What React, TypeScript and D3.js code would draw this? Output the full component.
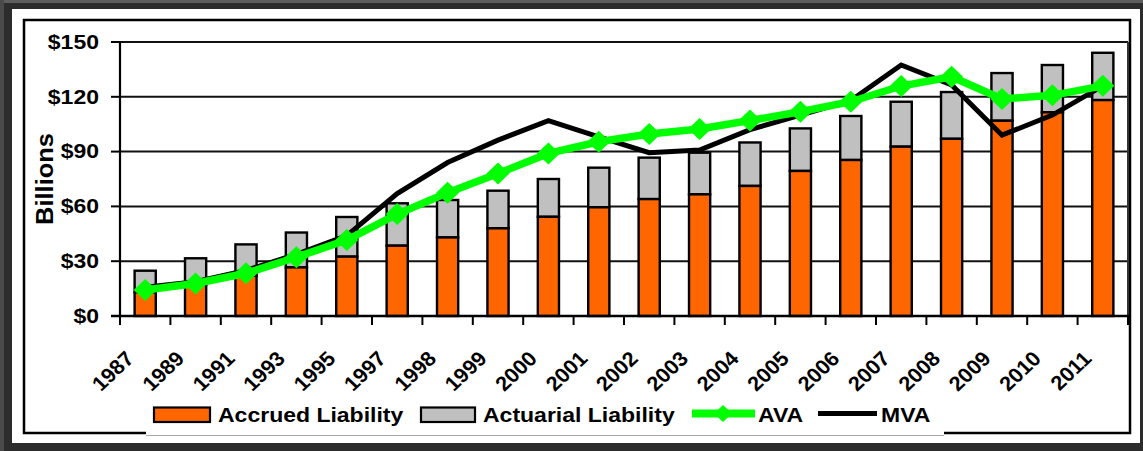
import * as d3 from "d3";

const years = ["1987", "1989", "1991", "1993", "1995", "1997", "1998", "1999", "2000", "2001",
  "2002", "2003", "2004", "2005", "2006", "2007", "2008", "2009", "2010", "2011"];

// top of orange bar
const accrued = [13, 17, 22, 26.6, 32.5, 38.5, 43, 48, 54.3, 59.5,
  64, 66.6, 71.2, 79.4, 85.4, 92.7, 97, 106.9, 111.5, 118.2];
// top of gray bar (total actuarial liability)
const actuarialTotal = [24.8, 31.6, 39.2, 45.7, 54.2, 61.7, 63.5, 68.6, 75, 81.2,
  86.7, 89.4, 95, 102.7, 109.5, 117.3, 122.6, 133, 137.4, 144.1];

const ava = [14.2, 17.8, 23.4, 32.2, 41.6, 55.8, 67.5, 78, 89, 95.4,
  99.6, 102.4, 107, 111.8, 117.3, 125.9, 131, 118.8, 120.8, 126];
const mva = [15.7, 18.8, 25, 33.8, 44, 67, 84, 96.3, 106.9, 98,
  89.4, 90.9, 102, 110, 118, 137.4, 126.5, 99, 110, 126];

const yTicks = [0, 30, 60, 90, 120, 150];

const W = 1143;
const H = 451;
const SX = 1.18; // the original picture is stretched horizontally
const FONT = "'Liberation Sans', Arial, Helvetica, sans-serif";
const ORANGE = "#ff6600";
const GRAY = "#c0c0c0";
const GREEN = "#00ff00";

const diamond = "M0,-11L11.5,0L0,11L-11.5,0Z";

export default function App() {
  const x = d3.scaleBand().domain(years).range([120, 1128]);
  const y = d3.scaleLinear().domain([0, 150]).range([316, 42]);
  const bw = x.bandwidth();
  const barW = bw * 0.42;
  const cx = (i: number) => (x(years[i]) as number) + bw / 2;

  const line = d3.line<number>().x((_, i) => cx(i)).y((d) => y(d));

  const tickXs = [...years.map((yr) => x(yr) as number), 1128];

  return (
    <svg width={W} height={H} style={{ position: "absolute", left: 0, top: 0 }}
      fontFamily={FONT} fontWeight="bold">
      {/* outer frame */}
      <rect x={0} y={0} width={W} height={H} fill="#2c2c2c" />
      <rect x={0} y={0} width={W} height={3} fill="#5e5e5e" />
      <rect x={0} y={0} width={4} height={H} fill="#4a4a4a" />
      <rect x={12} y={9} width={1128} height={434} fill="#fff" />
      <rect x={24} y={20} width={1106} height={413} fill="none" stroke="#000" strokeWidth={2.5} />

      {/* gridlines */}
      {yTicks.filter((t) => t > 0).map((t) => (
        <line key={t} x1={120} x2={1128} y1={y(t)} y2={y(t)} stroke="#111" strokeWidth={2} />
      ))}
      <line x1={1128} x2={1128} y1={y(150)} y2={y(0)} stroke="#333" strokeWidth={2} />

      {/* bars */}
      {years.map((yr, i) => (
        <g key={yr}>
          <rect x={cx(i) - barW / 2} y={y(actuarialTotal[i])} width={barW}
            height={y(accrued[i]) - y(actuarialTotal[i])} fill={GRAY} stroke="#000" strokeWidth={2.4} />
          <rect x={cx(i) - barW / 2} y={y(accrued[i])} width={barW}
            height={y(0) - y(accrued[i])} fill={ORANGE} stroke="#000" strokeWidth={2.4} />
        </g>
      ))}

      {/* axes */}
      <line x1={120} x2={120} y1={y(150)} y2={y(0)} stroke="#000" strokeWidth={2.2} />
      <line x1={111} x2={1129} y1={y(0)} y2={y(0)} stroke="#000" strokeWidth={2.4} />
      {yTicks.map((t) => (
        <g key={t}>
          <line x1={111} x2={120} y1={y(t)} y2={y(t)} stroke="#000" strokeWidth={2} />
          <text transform={`translate(99,${y(t)}) scale(${SX},1)`} textAnchor="end" dy="0.35em"
            fontSize={19.5} fill="#000">{"$" + t}</text>
        </g>
      ))}
      {tickXs.map((tx, i) => (
        <line key={i} x1={tx} x2={tx} y1={y(0)} y2={y(0) + 9} stroke="#000" strokeWidth={2} />
      ))}
      {years.map((yr, i) => (
        <text key={yr} transform={`translate(${cx(i) - 10},360) scale(1.06,1) rotate(-45)`}
          textAnchor="end" fontSize={20.5} fill="#000">{yr}</text>
      ))}
      <text transform={`translate(53,179) rotate(-90)`} textAnchor="middle" fontSize={23}
        textLength={92} lengthAdjust="spacingAndGlyphs" fill="#000">Billions</text>

      {/* lines */}
      <path d={line(mva) ?? ""} fill="none" stroke="#000" strokeWidth={5} />
      <path d={line(ava) ?? ""} fill="none" stroke={GREEN} strokeWidth={7.5} />
      {ava.map((v, i) => (
        <path key={i} d={diamond} transform={`translate(${cx(i)},${y(v)})`} fill={GREEN} />
      ))}

      {/* legend */}
      <rect x={146} y={396} width={798} height={39} fill="#fff" />
      <line x1={146} x2={944} y1={435.5} y2={435.5} stroke="#a8a8a8" strokeWidth={1.2} />
      <rect x={154} y={407.5} width={56} height={14.5} fill={ORANGE} stroke="#000" strokeWidth={2.2} />
      <text transform={`translate(218,422) scale(${SX},1)`} fontSize={19.5}>Accrued Liability</text>
      <rect x={421} y={407.5} width={54} height={14.5} fill={GRAY} stroke="#000" strokeWidth={2.2} />
      <text transform={`translate(483,422) scale(${SX},1)`} fontSize={19.5}>Actuarial Liability</text>
      <line x1={692} x2={755} y1={413.5} y2={413.5} stroke={GREEN} strokeWidth={8} />
      <path d="M0,-8.5L9,0L0,8.5L-9,0Z" transform="translate(723,413.5)" fill={GREEN} />
      <text transform={`translate(758,422) scale(${SX},1)`} fontSize={19.5}>AVA</text>
      <line x1={818} x2={877} y1={413.5} y2={413.5} stroke="#000" strokeWidth={5} />
      <text transform={`translate(881,422) scale(${SX},1)`} fontSize={19.5}>MVA</text>
    </svg>
  );
}
